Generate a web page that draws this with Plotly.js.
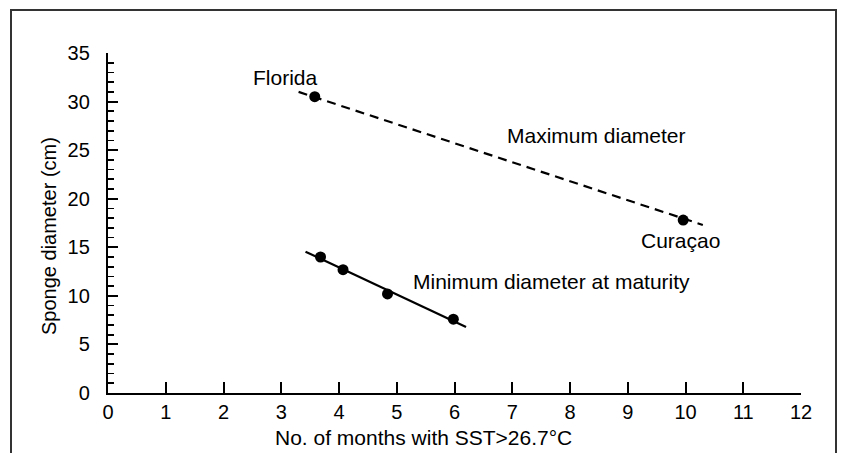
<!DOCTYPE html>
<html>
<head>
<meta charset="utf-8">
<script src="https://cdn.plot.ly/plotly-3.0.1.min.js"></script>
<style>html,body{margin:0;padding:0;background:#fff;} #chart{width:841px;height:453px;}</style>
</head>
<body>
<div id="chart"></div>
<script>
// Data
const maxSites = ['Florida', 'Curaçao'];
const maxX = [3.58, 9.96];
const maxY = [30.5, 17.8];
const maxFitX = [3.3, 10.3];
const maxFitY = [31.0, 17.3];

const minX = [3.68, 4.07, 4.84, 5.98];
const minY = [14.0, 12.7, 10.2, 7.6];
const minFitX = [3.42, 6.2];
const minFitY = [14.55, 6.8];

const xTicks = [0,1,2,3,4,5,6,7,8,9,10,11,12];
const yTicks = [0,5,10,15,20,25,30,35];

const FONT = '"Liberation Sans", Arial, Helvetica, sans-serif';

const traces = [
  {x: maxFitX, y: maxFitY, mode: 'lines', line: {color: '#000', width: 2.2, dash: '9px,6px'}, hoverinfo: 'skip'},
  {x: minFitX, y: minFitY, mode: 'lines', line: {color: '#000', width: 2.2}, hoverinfo: 'skip'},
  {x: maxX, y: maxY, text: maxSites, mode: 'markers', marker: {color: '#000', size: 11}},
  {x: minX, y: minY, mode: 'markers', marker: {color: '#000', size: 11}}
];

const layout = {
  width: 841, height: 453,
  margin: {l: 108, r: 40, t: 53, b: 60},
  showlegend: false,
  paper_bgcolor: '#fff', plot_bgcolor: '#fff',
  font: {family: FONT, color: '#000', size: 20},
  xaxis: {
    range: [0, 12], tickvals: xTicks, ticktext: xTicks.map(String),
    showgrid: false, zeroline: false, showline: true, linecolor: '#000', linewidth: 2.2,
    ticks: 'inside', ticklen: 11, tickwidth: 2, tickcolor: '#000',
    tickfont: {family: FONT, size: 20, color: '#000'}, ticklabelstandoff: 0
  },
  yaxis: {
    range: [0, 35], tickvals: yTicks, ticktext: yTicks.map(String),
    showgrid: false, zeroline: false, showline: true, linecolor: '#000', linewidth: 2.2,
    ticks: 'inside', ticklen: 10, tickwidth: 2, tickcolor: '#000',
    minor: {dtick: 1, tick0: 0, ticks: 'inside', ticklen: 6, tickwidth: 1.6, tickcolor: '#000', showgrid: false},
    tickfont: {family: FONT, size: 20, color: '#000'}, ticklabelstandoff: 12
  },
  annotations: [
    {text: 'Florida', x: 3.08, y: 32.5, xref: 'x', yref: 'y', showarrow: false, font: {size: 21}},
    {text: 'Maximum diameter', x: 8.46, y: 26.5, xref: 'x', yref: 'y', showarrow: false, font: {size: 21}},
    {text: 'Curaçao', x: 9.92, y: 15.7, xref: 'x', yref: 'y', showarrow: false, font: {size: 21}},
    {text: 'Minimum diameter at maturity', x: 5.25, y: 11.5, xref: 'x', yref: 'y', xanchor: 'left', showarrow: false, font: {size: 21}},
    {text: 'No. of months with SST>26.7°C', x: (423-108)/693, y: (393-437)/340, xref: 'paper', yref: 'paper', xanchor: 'center', yanchor: 'middle', showarrow: false, font: {size: 21}},
    {text: 'Sponge diameter (cm)', x: (49-108)/693, y: (393-236)/340, xref: 'paper', yref: 'paper', xanchor: 'center', yanchor: 'middle', textangle: -90, showarrow: false, font: {size: 20}}
  ],
  shapes: [
    {type: 'rect', xref: 'paper', yref: 'paper', x0: (11-108)/693, x1: (836-108)/693, y0: (393-470)/340, y1: (393-10)/340,
     line: {color: '#333', width: 2}, fillcolor: 'rgba(0,0,0,0)', layer: 'below'}
  ]
};

Plotly.newPlot('chart', traces, layout, {displayModeBar: false, staticPlot: true});
</script>
</body>
</html>
